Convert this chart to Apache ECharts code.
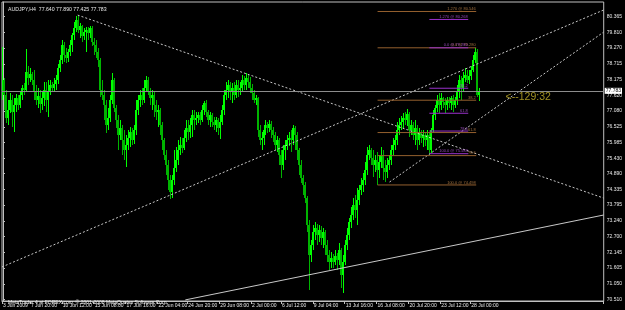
<!DOCTYPE html>
<html><head><meta charset="utf-8">
<script src="https://cdn.jsdelivr.net/npm/echarts@6/dist/echarts.min.js"></script>
<style>html,body{margin:0;padding:0;background:#000;}#c{width:625px;height:310px;}</style>
</head><body><div id="c"></div>
<script>
const headerText = 'AUDJPY,H4  77.640 77.890 77.425 77.783';
const copyrightText = 'MetaTrader 4 at FOREX.com, \u00a9 2001-2008 MetaQuotes Software Corp.';

const opens = [77.53,78.16,77.64,76.83,77.11,77.46,77.04,77.29,77.53,77.29,77.64,77.88,77.81,78.44,78.23,78.37,78.16,77.74,77.46,77.60,
77.32,77.53,77.81,77.46,77.74,77.98,77.88,78.02,78.16,78.58,78.85,79.38,79.03,78.92,79.13,79.38,79.73,79.97,80.25,79.90,
80.04,79.69,79.83,79.90,79.80,79.97,79.48,79.38,79.13,78.85,77.81,77.64,77.29,76.59,76.83,77.46,78.16,77.18,76.76,76.24,
76.48,76.07,75.72,75.89,76.13,76.35,76.07,76.41,77.11,77.46,77.64,77.46,77.88,78.16,77.74,77.53,77.64,77.29,77.04,77.11,
76.59,76.07,75.54,75.19,74.67,74.25,74.67,75.09,75.37,75.72,75.89,75.79,76.13,76.48,76.35,76.59,76.94,76.76,76.83,76.94,
76.76,77.11,77.36,77.04,76.76,76.94,76.69,76.59,76.76,76.48,76.69,77.11,77.64,77.81,77.98,77.74,77.88,77.64,77.98,77.81,
77.88,78.16,77.98,78.23,78.09,77.88,77.70,77.46,77.53,76.41,76.07,76.13,76.41,76.59,76.48,76.62,76.41,76.24,75.89,76.07,
75.54,75.19,75.72,75.89,76.07,76.13,76.07,76.48,76.24,75.72,75.19,74.74,74.50,74.04,73.10,72.06,72.40,72.86,73.00,72.75,
72.93,72.65,72.86,72.40,72.06,71.81,71.95,71.81,72.02,71.88,72.23,71.36,71.81,72.40,72.75,73.21,73.45,73.80,73.62,73.97,
74.32,74.50,74.67,75.02,75.54,75.72,75.44,75.19,75.37,75.02,75.30,75.54,75.09,74.95,75.19,75.37,75.72,75.89,76.07,76.41,
76.59,76.69,76.83,76.76,76.97,76.41,76.59,76.24,76.48,76.07,76.35,76.13,76.24,76.07,76.24,75.72,76.41,76.94,77.18,77.46,
77.29,77.53,77.39,77.29,77.46,77.36,77.53,77.29,77.46,77.74,78.16,77.88,78.23,78.33,78.16,78.30,78.51,78.85,79.13,77.640];
const closes = [78.16,77.64,76.83,77.11,77.46,77.04,77.29,77.53,77.29,77.64,77.88,77.81,78.44,78.23,78.37,78.16,77.74,77.46,77.60,77.32,
77.53,77.81,77.46,77.74,77.98,77.88,78.02,78.16,78.58,78.85,79.38,79.03,78.92,79.13,79.38,79.73,79.97,80.25,79.90,80.04,
79.69,79.83,79.90,79.80,79.97,79.48,79.38,79.13,78.85,77.81,77.64,77.29,76.59,76.83,77.46,78.16,77.18,76.76,76.24,76.48,
76.07,75.72,75.89,76.13,76.35,76.07,76.41,77.11,77.46,77.64,77.46,77.88,78.16,77.74,77.53,77.64,77.29,77.04,77.11,76.59,
76.07,75.54,75.19,74.67,74.25,74.67,75.09,75.37,75.72,75.89,75.79,76.13,76.48,76.35,76.59,76.94,76.76,76.83,76.94,76.76,
77.11,77.36,77.04,76.76,76.94,76.69,76.59,76.76,76.48,76.69,77.11,77.64,77.81,77.98,77.74,77.88,77.64,77.98,77.81,77.88,
78.16,77.98,78.23,78.09,77.88,77.70,77.46,77.53,76.41,76.07,76.13,76.41,76.59,76.48,76.62,76.41,76.24,75.89,76.07,75.54,
75.19,75.72,75.89,76.07,76.13,76.07,76.48,76.24,75.72,75.19,74.74,74.50,74.04,73.10,72.06,72.40,72.86,73.00,72.75,72.93,
72.65,72.86,72.40,72.06,71.81,71.95,71.81,72.02,71.88,72.23,71.36,71.81,72.40,72.75,73.21,73.45,73.80,73.62,73.97,74.32,
74.50,74.67,75.02,75.54,75.72,75.44,75.19,75.37,75.02,75.30,75.54,75.09,74.95,75.19,75.37,75.72,75.89,76.07,76.41,76.59,
76.69,76.83,76.76,76.97,76.41,76.59,76.24,76.48,76.07,76.35,76.13,76.24,76.07,76.24,75.72,76.41,76.94,77.18,77.46,77.29,
77.53,77.39,77.29,77.46,77.36,77.53,77.29,77.46,77.74,78.16,77.88,78.23,78.33,78.16,78.30,78.51,78.85,79.13,77.64,77.783];
const lows = [77.46,77.11,76.66,76.59,77.01,76.52,76.35,77.04,77.11,77.18,77.46,77.64,77.74,77.98,78.09,77.98,77.46,77.29,77.18,77.01,
77.11,77.25,77.04,76.87,77.64,77.74,77.77,77.81,78.02,78.44,78.72,78.79,78.75,78.79,78.99,79.13,79.55,79.83,79.80,79.62,
79.48,79.55,79.13,79.55,79.62,79.34,79.03,78.92,78.61,77.57,77.46,76.76,76.31,76.41,76.69,77.32,77.04,76.48,75.72,76.07,
75.54,75.37,75.12,75.72,75.82,75.89,75.93,76.24,76.94,77.22,77.29,77.36,77.74,77.64,77.29,77.11,76.87,76.76,76.52,76.24,
75.72,75.37,74.85,74.32,74.01,74.04,74.50,74.95,75.19,75.54,75.61,75.72,76.00,76.07,76.13,76.17,76.41,76.59,76.66,76.59,
76.69,76.94,76.87,76.59,76.52,76.52,76.41,76.35,76.24,76.10,76.59,76.94,77.46,77.53,77.46,77.36,77.46,77.53,77.57,77.64,
77.74,77.81,77.81,77.88,77.70,77.46,77.36,77.29,76.17,75.89,75.72,75.89,76.24,76.31,76.35,76.13,76.00,75.72,75.65,75.19,
74.74,75.02,75.37,75.72,75.86,75.65,75.89,75.72,75.37,74.85,74.57,74.15,73.87,72.86,70.84,71.81,72.23,72.58,72.40,72.51,
72.40,72.30,72.06,71.81,71.53,71.60,71.60,71.71,71.53,71.71,70.91,70.73,71.71,72.23,72.58,73.00,73.28,73.35,73.10,73.80,
74.15,74.25,74.50,74.85,75.37,75.19,74.78,74.95,74.50,74.74,75.09,74.67,74.60,74.74,75.02,75.19,75.54,75.72,75.89,76.24,
76.41,76.48,76.59,76.55,76.17,76.24,76.07,75.89,75.72,75.89,75.96,75.82,75.86,75.72,75.54,75.61,76.31,76.76,77.04,77.01,
77.11,77.18,77.01,77.11,77.18,77.11,77.04,77.18,77.29,77.53,77.46,77.74,78.09,78.05,78.02,78.16,78.44,78.75,77.57,77.425];
const highs = [79.31,78.23,77.81,77.46,77.70,77.64,77.53,77.67,77.64,77.74,77.98,78.05,79.24,78.65,78.58,78.44,78.51,77.98,77.88,77.81,
77.74,78.09,78.09,78.16,78.16,78.09,78.23,78.33,78.72,79.03,79.55,79.48,79.27,79.24,79.55,79.80,80.18,80.39,80.42,80.15,
80.08,79.97,80.01,80.01,80.04,80.04,79.62,79.55,79.27,78.92,78.16,77.81,77.46,77.18,77.64,78.40,78.23,77.29,76.94,76.76,
76.59,76.41,76.24,76.41,76.52,76.48,76.59,77.46,77.64,77.81,77.88,78.16,78.30,78.26,77.88,77.81,77.74,77.46,77.29,77.18,
76.69,76.13,75.72,75.37,74.85,74.85,75.72,75.82,76.07,76.17,76.13,76.41,76.76,76.76,76.83,77.11,77.11,77.04,77.04,77.04,
77.29,77.43,77.46,77.11,77.04,77.01,76.87,76.87,76.83,76.94,77.29,77.81,78.09,78.16,78.09,78.05,78.09,78.16,78.16,78.09,
78.33,78.30,78.40,78.33,78.26,78.02,77.81,77.64,77.57,76.59,76.35,76.59,76.76,76.69,76.76,76.73,76.52,76.35,76.20,76.13,
75.72,75.89,76.07,76.24,76.35,76.41,76.59,76.55,76.35,75.79,75.37,74.85,74.60,74.11,73.28,72.58,73.10,73.21,73.14,73.10,
73.07,73.00,72.93,72.58,72.23,72.16,72.09,72.23,72.13,72.47,72.30,72.06,72.58,73.00,73.35,73.73,74.04,74.15,74.39,74.50,
74.74,74.91,75.30,75.82,75.89,75.79,75.72,75.54,75.65,75.54,75.82,75.72,75.37,75.44,75.54,75.89,76.13,76.24,76.69,76.83,
76.90,77.01,77.04,77.15,77.04,76.76,76.69,76.76,76.59,76.48,76.41,76.41,76.35,76.41,76.35,76.48,77.11,77.29,77.64,77.70,
77.70,77.57,77.53,77.57,77.57,77.60,77.64,77.57,77.98,78.33,78.30,78.44,78.58,78.51,78.51,78.65,79.03,79.28,79.24,77.890];

const slotCount = 302;
const timeTickIndex = [0,14,30,46,62,78,93,109,125,140,156,172,188,204,220,235];
const timeTickLabels = ['3 Jun 2009','7 Jun 20:00','10 Jun 12:00','15 Jun 08:00','17 Jun 16:00','22 Jun 04:00','24 Jun 20:00','29 Jun 08:00','2 Jul 00:00','6 Jul 12:00','9 Jul 04:00','13 Jul 16:00','16 Jul 08:00','20 Jul 20:00','23 Jul 12:00','28 Jul 00:00'];
const priceTicks = [80.365,79.810,79.270,78.715,78.175,77.620,77.080,76.525,75.985,75.430,74.890,74.335,73.795,73.240,72.700,72.145,71.605,71.050,70.510];
const priceMin = 70.452, priceMax = 80.877;
const bidPrice = 77.783;

const dottedLines = [[[37.5,80.42],[301.5,74.04]], [[-0.5,71.64],[301.5,80.60]], [[194,74.60],[301.5,79.83]]];
const solidLines = [[[91.5,70.49],[301.5,73.45]]];

const fibBrownSpan = [188, 237.5];
const fibBrownNames = ['1.270 @ 80.546','0.0 @ 79.280','38.2','61.8','78.6','100.0 @ 74.498'];
const fibBrownPrices = [80.546,79.280,77.453,76.325,75.521,74.498];
const fibPurpleSpan = [214, 233.5];
const fibPurpleNames = ['1.270 @ 80.268','0.0 @ 79.280','38.2','61.8','78.6','100.0 @ 75.588'];
const fibPurplePrices = [80.268,79.280,77.870,76.998,76.378,75.588];

const timerText = '<--129:32';
const timerAt = [252.5, 77.54];

// ---- build
const categories = Array.from({length: slotCount}, (_, i) => String(i));
const labelAt = {};
timeTickIndex.forEach((k, j) => { labelAt[k] = timeTickLabels[j]; });
const showTick = (idx) => labelAt[idx] !== undefined;
const candleData = opens.map((o, i) => [i, o, closes[i], lows[i], highs[i]]);
const FONT = 'Liberation Sans';
const BULL = '#00ff00', BEAR = '#00b400';
const BROWN_LINE = '#94602e', BROWN_TEXT = '#c58a4c';
const PURPLE_LINE = '#9a32cc', PURPLE_TEXT = '#b65ae0';

function renderCandle(params, api) {
  const i = api.value(0), o = api.value(1), c = api.value(2), l = api.value(3), h = api.value(4);
  const pO = api.coord([i, o]), pC = api.coord([i, c]), pL = api.coord([i, l]), pH = api.coord([i, h]);
  const x = Math.floor(pO[0]);
  const col = c >= o ? BULL : BEAR;
  const top = Math.round(Math.min(pO[1], pC[1])), bot = Math.round(Math.max(pO[1], pC[1]));
  const yH = Math.round(pH[1]), yL = Math.round(pL[1]);
  return {type: 'group', children: [
    {type: 'rect', shape: {x: x, y: yH, width: 1, height: Math.max(1, yL - yH)}, style: {fill: col}},
    {type: 'rect', shape: {x: x - 1, y: top, width: 2, height: Math.max(1, bot - top)}, style: {fill: col}}
  ]};
}

const series = [{
  type: 'custom', xAxisIndex: 0, yAxisIndex: 0, data: candleData, renderItem: renderCandle,
  encode: {x: 0, y: [1, 2, 3, 4]}, clip: true, silent: true, z: 2,
  markLine: {
    silent: true, symbol: ['none','none'], animation: false,
    data: [{yAxis: bidPrice}],
    lineStyle: {color: '#8c8c8c', type: 'solid', width: 1},
    label: {show: true, position: 'end', formatter: bidPrice.toFixed(3), color: '#000', backgroundColor: '#fff',
            fontSize: 5, fontFamily: FONT, padding: [1,1,0,1], distance: 1}
  }
}];

dottedLines.forEach(seg => series.push({
  type: 'line', xAxisIndex: 1, yAxisIndex: 0, data: seg, symbol: 'none', silent: true, z: 3,
  lineStyle: {color: '#c8c8c8', width: 1, type: [2, 2]}
}));
solidLines.forEach(seg => series.push({
  type: 'line', xAxisIndex: 1, yAxisIndex: 0, data: seg, symbol: 'none', silent: true, z: 3,
  lineStyle: {color: '#c8c8c8', width: 1, type: 'solid'}
}));

function addFib(span, names, prices, lineColor, textColor) {
  prices.forEach(p => series.push({
    type: 'line', xAxisIndex: 1, yAxisIndex: 0, data: [[span[0], p], [span[1], p]],
    symbol: 'none', silent: true, z: 4, lineStyle: {color: lineColor, width: 1}
  }));
  series.push({
    type: 'scatter', xAxisIndex: 1, yAxisIndex: 0, symbolSize: 1, silent: true, z: 5,
    itemStyle: {color: 'rgba(0,0,0,0)'},
    data: prices.map((p, k) => ({value: [span[1], p], name: names[k]})),
    label: {show: true, position: [0, 0], align: 'right', verticalAlign: 'bottom', formatter: '{b}',
            color: textColor, fontSize: 4, fontFamily: FONT}
  });
}
addFib(fibBrownSpan, fibBrownNames, fibBrownPrices, BROWN_LINE, BROWN_TEXT);
addFib(fibPurpleSpan, fibPurpleNames, fibPurplePrices, PURPLE_LINE, PURPLE_TEXT);

series.push({
  type: 'scatter', xAxisIndex: 1, yAxisIndex: 0, symbolSize: 1, silent: true, z: 5,
  itemStyle: {color: 'rgba(0,0,0,0)'},
  data: [{value: timerAt, name: timerText}],
  label: {show: true, position: [0, 0], align: 'left', verticalAlign: 'middle', formatter: '{b}',
          color: '#c8b42a', fontSize: 10.5, fontFamily: FONT}
});

const option = {
  backgroundColor: '#000',
  animation: false,
  title: [
    {text: headerText, left: 3, top: 2, textStyle: {color: '#e8e8e8', fontSize: 5.2, fontWeight: 'normal', fontFamily: FONT}},
    {text: copyrightText, left: 3, top: 295, textStyle: {color: '#e8e8e8', fontSize: 5, fontWeight: 'normal', fontFamily: FONT}}
  ],
  grid: {left: 2, right: 19, top: 2, bottom: 9, show: true, borderColor: '#c0c0c0', borderWidth: 1, backgroundColor: '#000'},
  xAxis: [{
    type: 'category', data: categories, boundaryGap: true, position: 'bottom',
    axisLine: {show: true, lineStyle: {color: '#c0c0c0'}},
    axisTick: {show: true, interval: showTick, length: 3, lineStyle: {color: '#c0c0c0'}},
    axisLabel: {interval: showTick, formatter: (v, idx) => labelAt[idx] || '', align: 'left',
                color: '#e8e8e8', fontSize: 5, fontFamily: FONT, margin: 2},
    splitLine: {show: false}
  }, {
    type: 'value', min: -0.5, max: slotCount - 0.5, show: false
  }],
  yAxis: [{
    type: 'value', position: 'right', min: priceMin, max: priceMax,
    splitLine: {show: false},
    axisLine: {show: true, lineStyle: {color: '#c0c0c0'}},
    axisTick: {show: true, customValues: priceTicks, length: 2, lineStyle: {color: '#c0c0c0'}},
    axisLabel: {customValues: priceTicks, formatter: v => v.toFixed(3), color: '#e8e8e8',
                fontSize: 5, fontFamily: FONT, margin: 3}
  }],
  series: series
};
const chart = echarts.init(document.getElementById('c'), null, {renderer: 'canvas'});
chart.setOption(option);
</script></body></html>
